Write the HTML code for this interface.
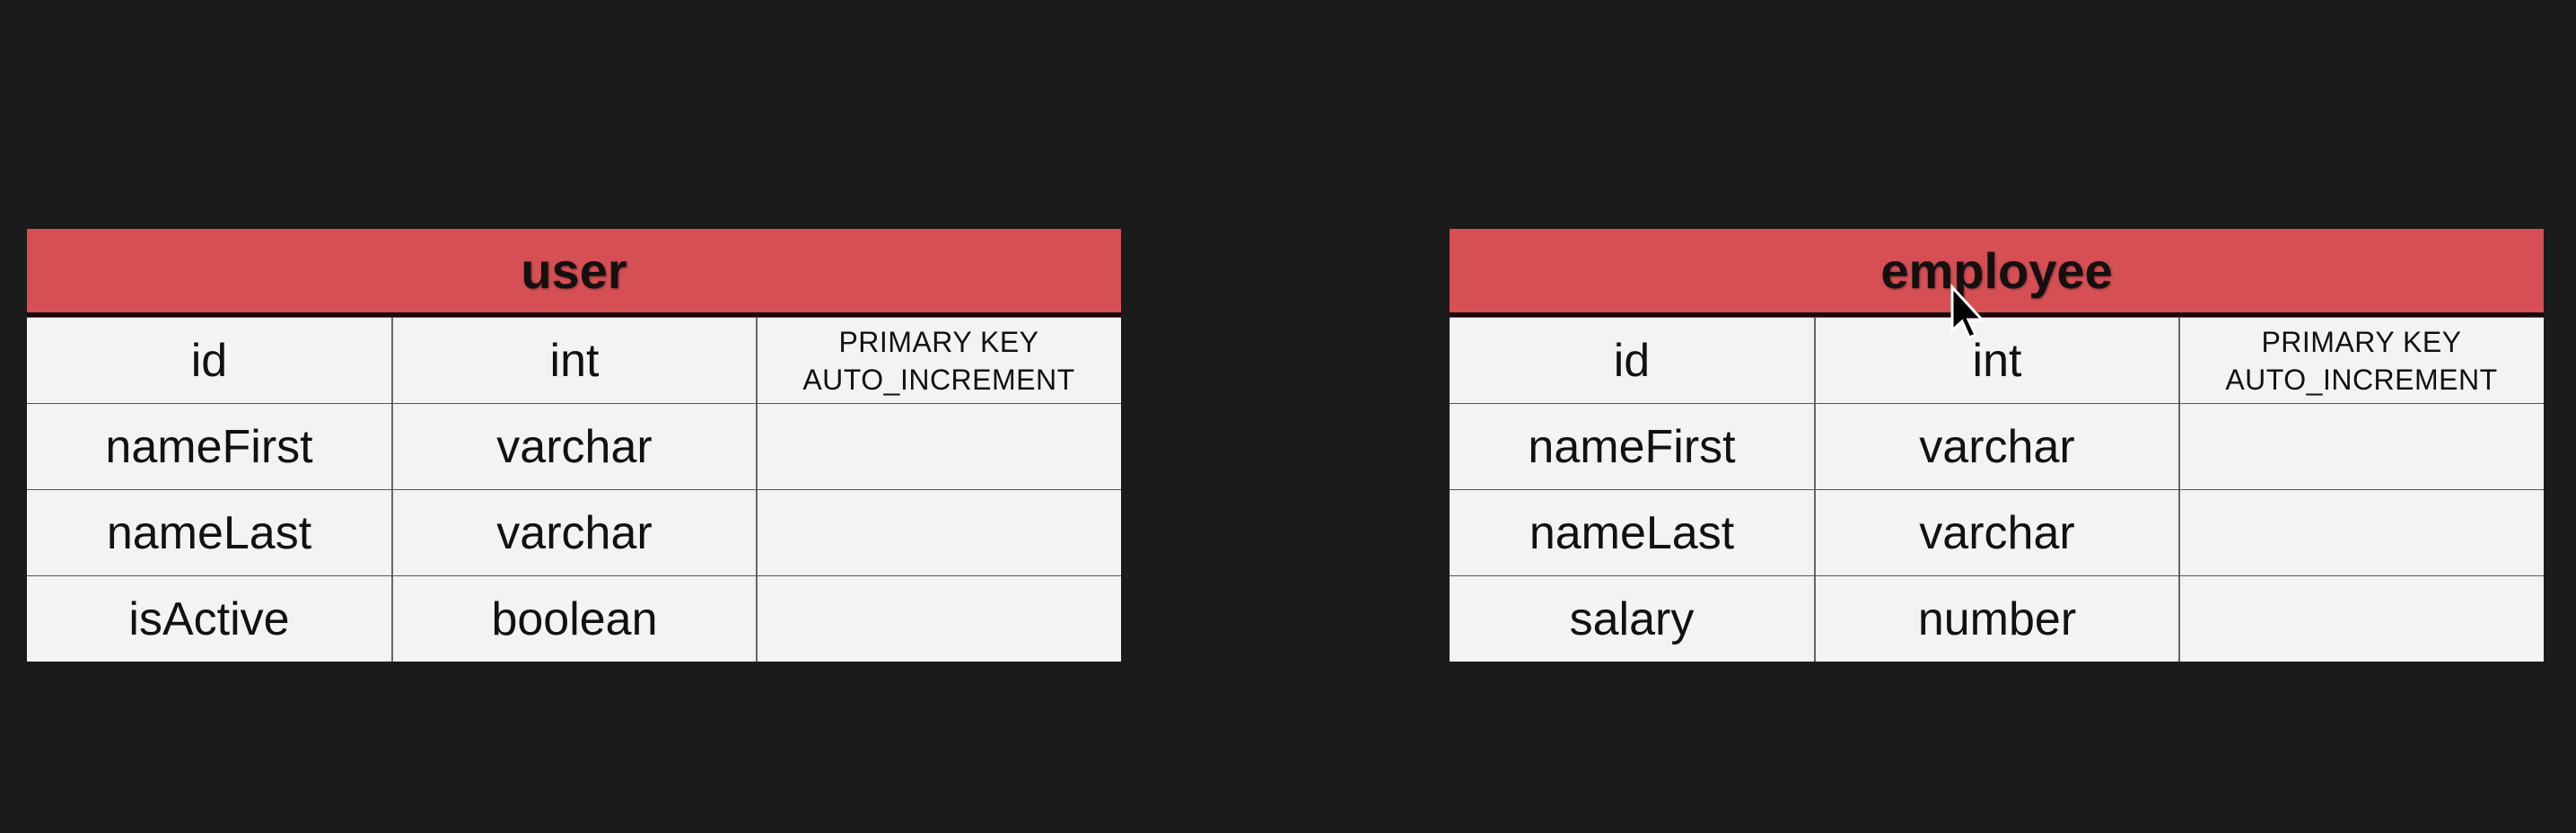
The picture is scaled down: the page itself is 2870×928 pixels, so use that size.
<!DOCTYPE html>
<html><head><meta charset="utf-8"><style>
html,body{margin:0;padding:0;width:2870px;height:928px;background:#1b1b1b;overflow:hidden;font-family:"Liberation Sans",Arial,sans-serif;}
.t{position:absolute;top:255px;width:1219px;}
.h{height:93px;background:#d54f55;border-bottom:5px solid #1a0a0a;display:flex;align-items:center;justify-content:center;font-weight:bold;font-size:56px;color:#151010;text-shadow:1px 1px 2px rgba(0,0,0,.4);}
.r{display:flex;height:95px;border-top:1px solid #555;background:#f3f3f3;}
.r:first-of-type{border-top:none;}
.c{width:406px;display:flex;align-items:center;justify-content:center;font-size:52px;color:#111;border-left:2px solid #666;box-sizing:border-box;text-align:center;}
.c:first-child{border-left:none;}
.k{font-size:32px;line-height:42px;letter-spacing:.5px;}
</style></head><body>
<div class="t" style="left:30px">
<div class="h">user</div>
<div class="r"><div class="c">id</div><div class="c">int</div><div class="c k">PRIMARY KEY<br>AUTO_INCREMENT</div></div>
<div class="r"><div class="c">nameFirst</div><div class="c">varchar</div><div class="c"></div></div>
<div class="r"><div class="c">nameLast</div><div class="c">varchar</div><div class="c"></div></div>
<div class="r"><div class="c">isActive</div><div class="c">boolean</div><div class="c"></div></div>
</div>
<div class="t" style="left:1615px">
<div class="h">employee</div>
<div class="r"><div class="c">id</div><div class="c">int</div><div class="c k">PRIMARY KEY<br>AUTO_INCREMENT</div></div>
<div class="r"><div class="c">nameFirst</div><div class="c">varchar</div><div class="c"></div></div>
<div class="r"><div class="c">nameLast</div><div class="c">varchar</div><div class="c"></div></div>
<div class="r"><div class="c">salary</div><div class="c">number</div><div class="c"></div></div>
</div>
<svg style="position:absolute;left:2170px;top:316px" width="50" height="70" viewBox="0 0 50 70">
<path d="M5 4 L5 52 L16 42 L24 60 L31 57 L23 40 L38 40 Z" fill="#000" stroke="#fff" stroke-width="3"/>
</svg>
</body></html>
